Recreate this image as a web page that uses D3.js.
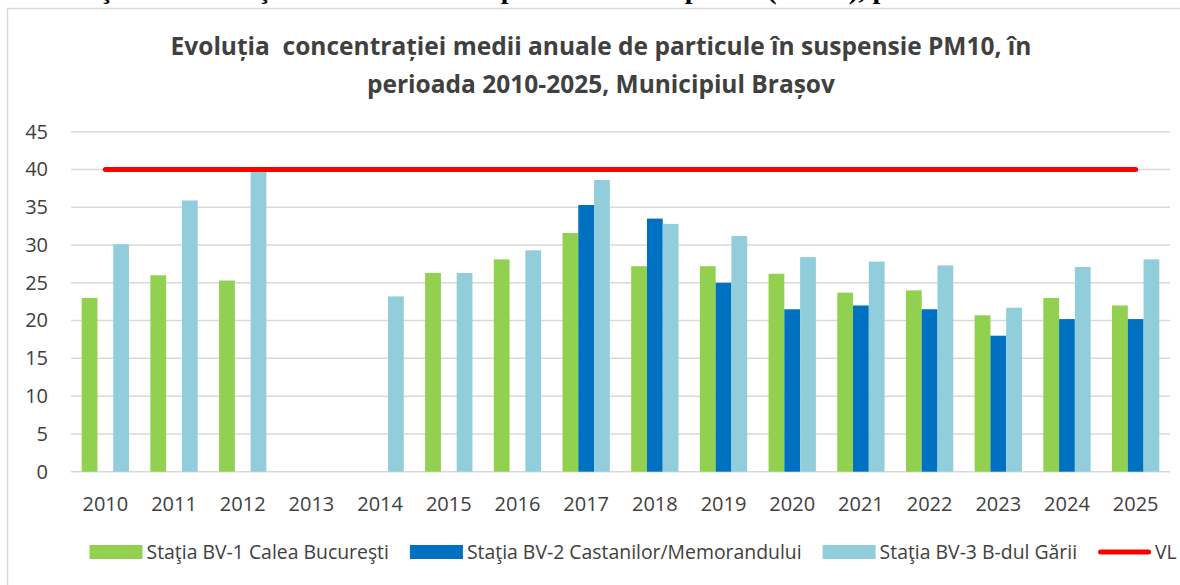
<!DOCTYPE html>
<html><head><meta charset="utf-8">
<script src="https://cdn.jsdelivr.net/npm/d3@7"></script>
<style>body{margin:0;background:#fff}svg{display:block}</style>
</head><body><svg id="c" width="1180" height="585"></svg>
<script>
// ---- data ----
const years = ["2010","2011","2012","2013","2014","2015","2016","2017","2018","2019","2020","2021","2022","2023","2024","2025"];
const bv1 = [23.0, 26.0, 25.3, null, null, 26.3, 28.1, 31.6, 27.2, 27.2, 26.2, 23.7, 24.0, 20.7, 23.0, 22.0];
const bv2 = [null, null, null, null, null, null, null, 35.3, 33.5, 25.0, 21.5, 22.0, 21.5, 18.0, 20.2, 20.2];
const bv3 = [30.1, 35.9, 39.7, null, 23.2, 26.3, 29.3, 38.6, 32.8, 31.2, 28.4, 27.8, 27.3, 21.7, 27.1, 28.1];
const limitVL = [40, 40, 40, 40, 40, 40, 40, 40, 40, 40, 40, 40, 40, 40, 40, 40];
const yTicks = [0, 5, 10, 15, 20, 25, 30, 35, 40, 45];
const seriesNames = ["Staţia BV-1 Calea Bucureşti", "Staţia BV-2 Castanilor/Memorandului", "Staţia BV-3 B-dul Gării", "VL"];
const titleLines = ["Evoluția  concentrației medii anuale de particule în suspensie PM10, în", "perioada 2010-2025, Municipiul Brașov"];
const pageHeading = "Evoluţia concentraţiei medii anuale de particule în suspensie (PM10), perioada 2010-2025";

// ---- styles ----
const colors = ["#92D050", "#0070C0", "#92CDDC"];
const lineColor = "#FF0000";
const font = "'Open Sans', sans-serif";
const textCol = "#404040";

const svg = d3.select("#c");
const pLeft = 71, pRight = 1170, pTop = 131.7, pBottom = 471.7;

// cut-off heading of the page above the chart (only its lower edge shows)
svg.append("text").attr("x", 30).attr("y", -1)
  .attr("font-family", "'Liberation Serif', 'Times New Roman', serif")
  .attr("font-weight", "bold").attr("font-size", 26).attr("fill", "#000")
  .attr("textLength", 1079).attr("lengthAdjust", "spacingAndGlyphs")
  .text(pageHeading);

// chart frame
svg.append("rect").attr("x", 7.5).attr("y", 8.5).attr("width", 1200).attr("height", 620)
  .attr("fill", "#fff").attr("stroke", "#D9D9D9").attr("stroke-width", 1.5);

// title
svg.append("g").selectAll("text").data(titleLines).join("text")
  .attr("x", 601).attr("y", (d, i) => 55 + i * 38)
  .attr("text-anchor", "middle").attr("font-family", font).attr("font-weight", "bold")
  .attr("font-size", 24.5).attr("fill", textCol).style("white-space", "pre")
  .text(d => d);

const x = d3.scaleBand().domain(years).range([pLeft, pRight]).paddingInner(0.311).paddingOuter(0.1555);
const xs = d3.scaleBand().domain([0, 1, 2]).range([0, x.bandwidth()]);
const y = d3.scaleLinear().domain([0, 45]).range([pBottom, pTop]);

// gridlines
svg.append("g").selectAll("line").data(yTicks).join("line")
  .attr("x1", pLeft).attr("x2", pRight)
  .attr("y1", d => y(d)).attr("y2", d => y(d))
  .attr("stroke", "#D9D9D9").attr("stroke-width", 1.5);

// y axis labels
const ya = svg.append("g").attr("transform", `translate(${pLeft},0)`)
  .call(d3.axisLeft(y).tickValues(yTicks).tickSize(0).tickPadding(23));
ya.select(".domain").remove();
ya.selectAll("text").attr("font-family", font).attr("font-size", 20).attr("fill", textCol);

// x axis labels
const xa = svg.append("g").attr("transform", `translate(0,${pBottom})`)
  .call(d3.axisBottom(x).tickSize(0).tickPadding(25));
xa.select(".domain").remove();
xa.selectAll("text").attr("font-family", font).attr("font-size", 20).attr("fill", textCol);

// bars
const series = [bv1, bv2, bv3];
series.forEach((vals, si) => {
  svg.append("g").selectAll("rect")
    .data(years.map((yr, i) => ({ yr, v: vals[i] })).filter(d => d.v != null))
    .join("rect")
    .attr("x", d => x(d.yr) + xs(si))
    .attr("width", xs.bandwidth())
    .attr("y", d => y(d.v))
    .attr("height", d => y(0) - y(d.v))
    .attr("fill", colors[si]);
});

// limit line
const line = d3.line().x(d => x(d.yr) + x.bandwidth() / 2).y(d => y(d.v));
svg.append("path").datum(years.map((yr, i) => ({ yr, v: limitVL[i] })))
  .attr("d", line).attr("fill", "none").attr("stroke", lineColor)
  .attr("stroke-width", 5).attr("stroke-linecap", "round");

// legend
const lg = svg.append("g");
let lx = 89.5;
const ly = 552;
seriesNames.forEach((name, i) => {
  if (i < 3) {
    lg.append("rect").attr("x", lx).attr("y", ly - 7).attr("width", 53).attr("height", 14).attr("fill", colors[i]);
  } else {
    lg.append("line").attr("x1", lx + 2.5).attr("x2", lx + 50.5).attr("y1", ly).attr("y2", ly)
      .attr("stroke", lineColor).attr("stroke-width", 5).attr("stroke-linecap", "round");
  }
  const t = lg.append("text").attr("x", lx + 57).attr("y", ly).attr("dy", "0.35em")
    .attr("font-family", font).attr("font-size", 19.4).attr("fill", textCol).text(name);
  lx = lx + 57 + t.node().getComputedTextLength() + 21;
});
</script>
</body></html>
